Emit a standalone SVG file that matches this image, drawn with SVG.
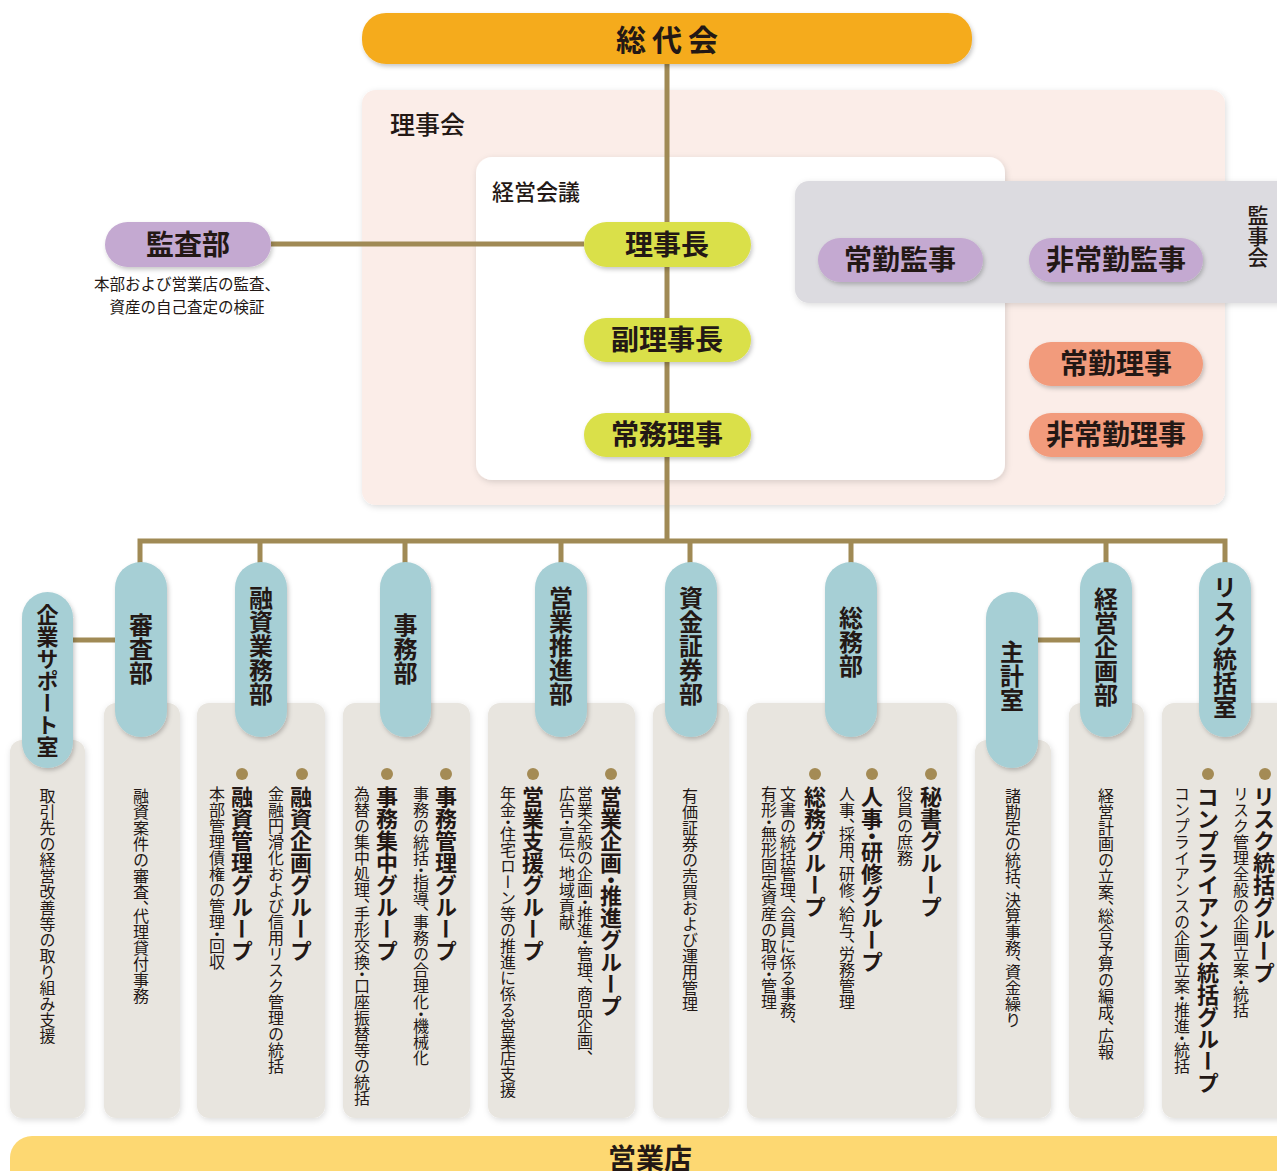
<svg xmlns="http://www.w3.org/2000/svg" width="1277" height="1171" viewBox="0 0 1277 1171">
<defs>
<filter id="sh" x="-20%" y="-20%" width="140%" height="150%">
<feDropShadow dx="1.5" dy="2.5" stdDeviation="2.2" flood-color="#000" flood-opacity="0.22"/>
</filter>
<filter id="shc" x="-20%" y="-10%" width="140%" height="120%">
<feDropShadow dx="1" dy="2" stdDeviation="3" flood-color="#000" flood-opacity="0.14"/>
</filter>
<style>
text{font-family:"Noto Sans CJK JP","Noto Sans CJK SC",sans-serif;fill:#231815}
.v{writing-mode:vertical-rl;font-feature-settings:"vhal" 1}
.b{font-weight:700}
.h28{font-size:28px;font-weight:700}
.lbl{font-size:24px;font-weight:700}
.grp{font-size:22px;font-weight:700}
.desc{font-size:16px}
.teal{fill:#A6CFD5}
.card{fill:#E8E5DF}
.purple{fill:#C4A9D1}
.salmon{fill:#F29B7C}
.green{fill:#DAE04A}
.dot{fill:#A48B55}
.conn{stroke:#A08A55;stroke-width:5;fill:none}
</style>
</defs>
<rect width="1277" height="1171" fill="#FFFFFF"/>

<g id="panels">
<rect x="362" y="90" width="863" height="415" rx="14" fill="#FBEDE8" filter="url(#shc)"/>
<text x="390" y="134" style="font-size:25px;font-weight:500">理事会</text>
<rect x="476" y="157" width="529" height="323" rx="16" fill="#FFFFFF" filter="url(#shc)"/>
<text x="492" y="200" style="font-size:22px;font-weight:500">経営会議</text>
<rect x="795" y="181" width="510" height="122" rx="14" fill="#DCDBE0" filter="url(#shc)"/>
<text class="v" x="1258" y="205" style="font-size:21px;font-weight:500">監事会</text>
</g>

<g id="cards">
<rect class="card" x="10" y="740" width="75" height="378" rx="12" filter="url(#shc)"/>
<rect class="card" x="104" y="703" width="76" height="415" rx="12" filter="url(#shc)"/>
<rect class="card" x="197" y="703" width="128" height="415" rx="12" filter="url(#shc)"/>
<rect class="card" x="343" y="703" width="127" height="415" rx="12" filter="url(#shc)"/>
<rect class="card" x="488" y="703" width="147" height="415" rx="12" filter="url(#shc)"/>
<rect class="card" x="653" y="703" width="76" height="415" rx="12" filter="url(#shc)"/>
<rect class="card" x="747" y="703" width="210" height="415" rx="12" filter="url(#shc)"/>
<rect class="card" x="975" y="740" width="76" height="378" rx="12" filter="url(#shc)"/>
<rect class="card" x="1069" y="703" width="75" height="415" rx="12" filter="url(#shc)"/>
<rect class="card" x="1162" y="703" width="130" height="415" rx="12" filter="url(#shc)"/>
</g>

<g id="connectors">
<path class="conn" d="M667,64 V541"/>
<path class="conn" d="M271,244 H584"/>
<path class="conn" d="M140,563 V541 H1225 V563"/>
<path class="conn" d="M260,541 V563 M405,541 V563 M561,541 V563 M690,541 V563 M851,541 V563 M1106,541 V563"/>
<path class="conn" d="M72,640 H116"/>
<path class="conn" d="M1037,640 H1081"/>
</g>

<g id="n-soudaikai">
<rect x="362" y="13" width="610" height="51" rx="24" fill="#F5AB1D" filter="url(#sh)"/>
<text x="670" y="51" text-anchor="middle" style="font-size:30px;font-weight:700;letter-spacing:6px">総代会</text>
</g>

<g id="n-kansabu">
<rect class="purple" x="105" y="222" width="166" height="45" rx="22.5" filter="url(#sh)"/>
<text class="h28" x="188" y="255" text-anchor="middle">監査部</text>
<text x="187" y="290" text-anchor="middle" style="font-size:15.5px">本部および営業店の監査、</text>
<text x="187" y="313" text-anchor="middle" style="font-size:15.5px">資産の自己査定の検証</text>
</g>

<g id="n-rijicho">
<rect class="green" x="584" y="222" width="167" height="45" rx="22.5" filter="url(#sh)"/>
<text class="h28" x="667" y="255" text-anchor="middle">理事長</text>
</g>
<g id="n-fukurijicho">
<rect class="green" x="584" y="318" width="167" height="44" rx="22" filter="url(#sh)"/>
<text class="h28" x="667" y="350" text-anchor="middle">副理事長</text>
</g>
<g id="n-jomuriji">
<rect class="green" x="584" y="413" width="167" height="44" rx="22" filter="url(#sh)"/>
<text class="h28" x="667" y="445" text-anchor="middle">常務理事</text>
</g>

<g id="n-jokinkanji">
<rect class="purple" x="818" y="238" width="165" height="44" rx="22" filter="url(#sh)"/>
<text class="h28" x="900" y="270" text-anchor="middle">常勤監事</text>
</g>
<g id="n-hijokinkanji">
<rect class="purple" x="1029" y="238" width="174" height="44" rx="22" filter="url(#sh)"/>
<text class="h28" x="1116" y="270" text-anchor="middle">非常勤監事</text>
</g>
<g id="n-jokinriji">
<rect class="salmon" x="1029" y="342" width="174" height="44" rx="22" filter="url(#sh)"/>
<text class="h28" x="1116" y="374" text-anchor="middle">常勤理事</text>
</g>
<g id="n-hijokinriji">
<rect class="salmon" x="1029" y="413" width="174" height="44" rx="22" filter="url(#sh)"/>
<text class="h28" x="1116" y="445" text-anchor="middle">非常勤理事</text>
</g>

<g id="n-kigyo">
<rect class="teal" x="22" y="592" width="51" height="176" rx="25.5" filter="url(#sh)"/>
<text class="v lbl" x="47.5" y="604" style="font-size:22px">企業サポート室</text>
<text class="v desc" x="47.5" y="788">取引先の経営改善等の取り組み支援</text>
</g>

<g id="n-shinsa">
<rect class="teal" x="115" y="562" width="52" height="175" rx="26" filter="url(#sh)"/>
<text class="v lbl" x="141" y="613">審査部</text>
<text class="v desc" x="141" y="788">融資案件の審査、代理貸付事務</text>
</g>

<g id="n-yushigyomu">
<rect class="teal" x="235" y="562" width="52" height="175" rx="26" filter="url(#sh)"/>
<text class="v lbl" x="261" y="586">融資業務部</text>
<circle class="dot" cx="302" cy="774" r="6"/>
<text class="v grp" x="301" y="786">融資企画グループ</text>
<text class="v desc" x="276" y="786">金融円滑化および信用リスク管理の統括</text>
<circle class="dot" cx="242" cy="774" r="6"/>
<text class="v grp" x="242" y="786">融資管理グループ</text>
<text class="v desc" x="217" y="786">本部管理債権の管理・回収</text>
</g>

<g id="n-jimu">
<rect class="teal" x="380" y="562" width="51" height="175" rx="25.5" filter="url(#sh)"/>
<text class="v lbl" x="405.5" y="613">事務部</text>
<circle class="dot" cx="446" cy="774" r="6"/>
<text class="v grp" x="446" y="786">事務管理グループ</text>
<text class="v desc" x="421" y="786">事務の統括・指導、事務の合理化・機械化</text>
<circle class="dot" cx="387" cy="774" r="6"/>
<text class="v grp" x="387" y="786">事務集中グループ</text>
<text class="v desc" x="362" y="786">為替の集中処理、手形交換・口座振替等の統括</text>
</g>

<g id="n-eigyosuishin">
<rect class="teal" x="535" y="562" width="52" height="175" rx="26" filter="url(#sh)"/>
<text class="v lbl" x="561" y="586">営業推進部</text>
<circle class="dot" cx="611" cy="774" r="6"/>
<text class="v grp" x="611" y="786">営業企画・推進グループ</text>
<text class="v desc" x="585" y="786">営業全般の企画・推進・管理、商品企画、</text>
<text class="v desc" x="567" y="786">広告・宣伝、地域貢献</text>
<circle class="dot" cx="533" cy="774" r="6"/>
<text class="v grp" x="533" y="786">営業支援グループ</text>
<text class="v desc" x="508" y="786">年金・住宅ローン等の推進に係る営業店支援</text>
</g>

<g id="n-shikin">
<rect class="teal" x="665" y="562" width="52" height="175" rx="26" filter="url(#sh)"/>
<text class="v lbl" x="691" y="586">資金証券部</text>
<text class="v desc" x="690" y="788">有価証券の売買および運用管理</text>
</g>

<g id="n-somu">
<rect class="teal" x="825" y="562" width="52" height="175" rx="26" filter="url(#sh)"/>
<text class="v lbl" x="851" y="606">総務部</text>
<circle class="dot" cx="931" cy="774" r="6"/>
<text class="v grp" x="931" y="786">秘書グループ</text>
<text class="v desc" x="905" y="786">役員の庶務</text>
<circle class="dot" cx="872" cy="774" r="6"/>
<text class="v grp" x="872" y="786">人事・研修グループ</text>
<text class="v desc" x="847" y="786">人事、採用、研修、給与、労務管理</text>
<circle class="dot" cx="815" cy="774" r="6"/>
<text class="v grp" x="815" y="786">総務グループ</text>
<text class="v desc" x="788" y="786">文書の統括管理、会員に係る事務、</text>
<text class="v desc" x="769" y="786">有形・無形固定資産の取得・管理</text>
</g>

<g id="n-shukei">
<rect class="teal" x="986" y="592" width="52" height="176" rx="26" filter="url(#sh)"/>
<text class="v lbl" x="1012" y="640">主計室</text>
<text class="v desc" x="1013" y="788">諸勘定の統括、決算事務、資金繰り</text>
</g>

<g id="n-keieikikaku">
<rect class="teal" x="1080" y="562" width="52" height="175" rx="26" filter="url(#sh)"/>
<text class="v lbl" x="1106" y="587">経営企画部</text>
<text class="v desc" x="1106" y="788">経営計画の立案、総合予算の編成、広報</text>
</g>

<g id="n-risk">
<rect class="teal" x="1199" y="562" width="52" height="175" rx="26" filter="url(#sh)"/>
<text class="v lbl" x="1225" y="575">リスク統括室</text>
<circle class="dot" cx="1265" cy="774" r="6"/>
<text class="v grp" x="1264" y="786">リスク統括グループ</text>
<text class="v desc" x="1241" y="786">リスク管理全般の企画立案・統括</text>
<circle class="dot" cx="1208" cy="774" r="6"/>
<text class="v grp" x="1208" y="786">コンプライアンス統括グループ</text>
<text class="v desc" x="1182" y="786">コンプライアンスの企画立案・推進・統括</text>
</g>

<g id="n-eigyoten">
<rect x="10" y="1136" width="1300" height="80" rx="22" fill="#FDD872"/>
<text class="b" x="650" y="1169" text-anchor="middle" style="font-size:28px">営業店</text>
</g>
</svg>
